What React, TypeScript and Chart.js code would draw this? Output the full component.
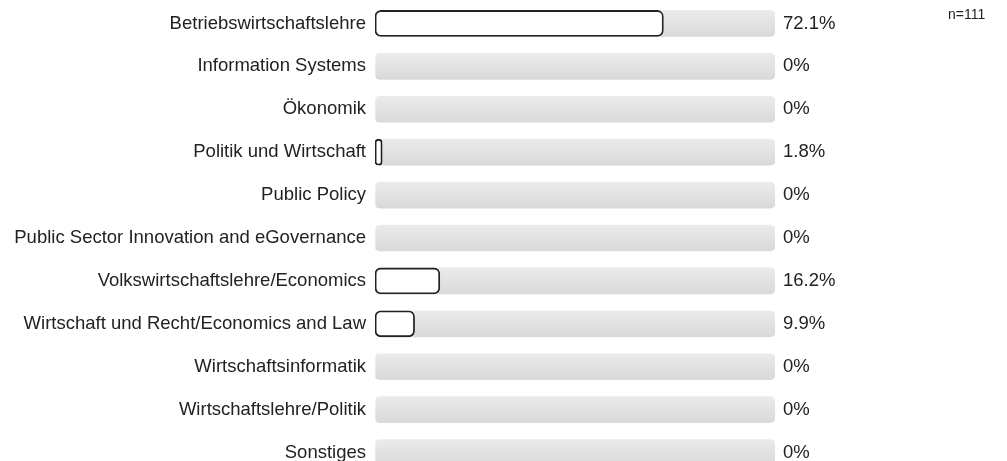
import React, { useEffect, useRef } from "react";
import { Chart, registerables } from "chart.js";

Chart.register(...registerables);

const categories: string[] = [
  "Betriebswirtschaftslehre",
  "Information Systems",
  "Ökonomik",
  "Politik und Wirtschaft",
  "Public Policy",
  "Public Sector Innovation and eGovernance",
  "Volkswirtschaftslehre/Economics",
  "Wirtschaft und Recht/Economics and Law",
  "Wirtschaftsinformatik",
  "Wirtschaftslehre/Politik",
  "Sonstiges",
];

const percentValues: number[] = [72.1, 0, 0, 1.8, 0, 0, 16.2, 9.9, 0, 0, 0];
const trackValues: number[] = [100, 100, 100, 100, 100, 100, 100, 100, 100, 100, 100];
const sampleNote = "n=111";

const FONT = "'Liberation Sans', Arial, sans-serif";
const CANVAS_W = 1007;
const CANVAS_H = 474;

const labelsPlugin = {
  id: "valueLabels",
  afterDatasetsDraw(chart: any) {
    const { ctx, chartArea, scales } = chart;
    ctx.save();
    ctx.fillStyle = "#222";
    ctx.font = `18.5px ${FONT}`;
    ctx.textAlign = "left";
    ctx.textBaseline = "middle";
    percentValues.forEach((v, i) => {
      const y = scales.y.getPixelForValue(i);
      const txt = v === 0 ? "0%" : v.toFixed(1) + "%";
      ctx.fillText(txt, chartArea.right + 8, y);
    });
    ctx.font = `14px ${FONT}`;
    ctx.fillText(sampleNote, 948, 15);
    ctx.restore();
  },
};

export default function App() {
  const ref = useRef<HTMLCanvasElement>(null);
  useEffect(() => {
    if (!ref.current) return;
    const chart = new Chart(ref.current, {
      type: "bar",
      data: {
        labels: categories,
        datasets: [
          {
            label: "value",
            data: percentValues,
            backgroundColor: "#ffffff",
            borderColor: "#222222",
            borderWidth: (c: any) => (c.raw ? 1.8 : 0),
            borderRadius: 6,
            borderSkipped: false,
            barThickness: 26,
            grouped: false,
            order: 1,
          } as any,
          {
            label: "track",
            data: trackValues,
            backgroundColor: (c: any) => {
              const chart = c.chart;
              const ys = chart.scales && chart.scales.y;
              if (!ys || c.dataIndex === undefined) return "#e2e2e2";
              const yc = ys.getPixelForValue(c.dataIndex);
              if (!isFinite(yc)) return "#e2e2e2";
              const g = chart.ctx.createLinearGradient(0, yc - 13, 0, yc + 13);
              g.addColorStop(0, "#ebebeb");
              g.addColorStop(1, "#d9d9d9");
              return g;
            },
            borderWidth: 0,
            borderRadius: 5,
            borderSkipped: false,
            barThickness: 26,
            grouped: false,
            order: 2,
          } as any,
        ],
      },
      options: {
        indexAxis: "y",
        animation: false,
        responsive: false,
        maintainAspectRatio: false,
        layout: { padding: { left: 0, right: 232, top: 2, bottom: 0 } },
        plugins: {
          legend: { display: false },
          tooltip: { enabled: false },
        },
        scales: {
          x: { display: false, min: 0, max: 100 },
          y: {
            grid: { display: false, drawTicks: false },
            border: { display: false },
            ticks: {
              color: "#222",
              font: { family: FONT, size: 18.5 },
              padding: 9,
            },
            afterFit: (s: any) => {
              s.width = 375;
              s.paddingTop = 0;
              s.paddingBottom = 0;
            },
          },
        },
      },
      plugins: [labelsPlugin],
    } as any);
    return () => chart.destroy();
  }, []);
  return (
    <div
      style={{
        position: "fixed",
        left: 0,
        top: 0,
        width: 1007,
        height: 461,
        overflow: "hidden",
        background: "#fff",
      }}
    >
      <canvas
        ref={ref}
        width={CANVAS_W}
        height={CANVAS_H}
        style={{ display: "block", width: CANVAS_W, height: CANVAS_H }}
      />
    </div>
  );
}
